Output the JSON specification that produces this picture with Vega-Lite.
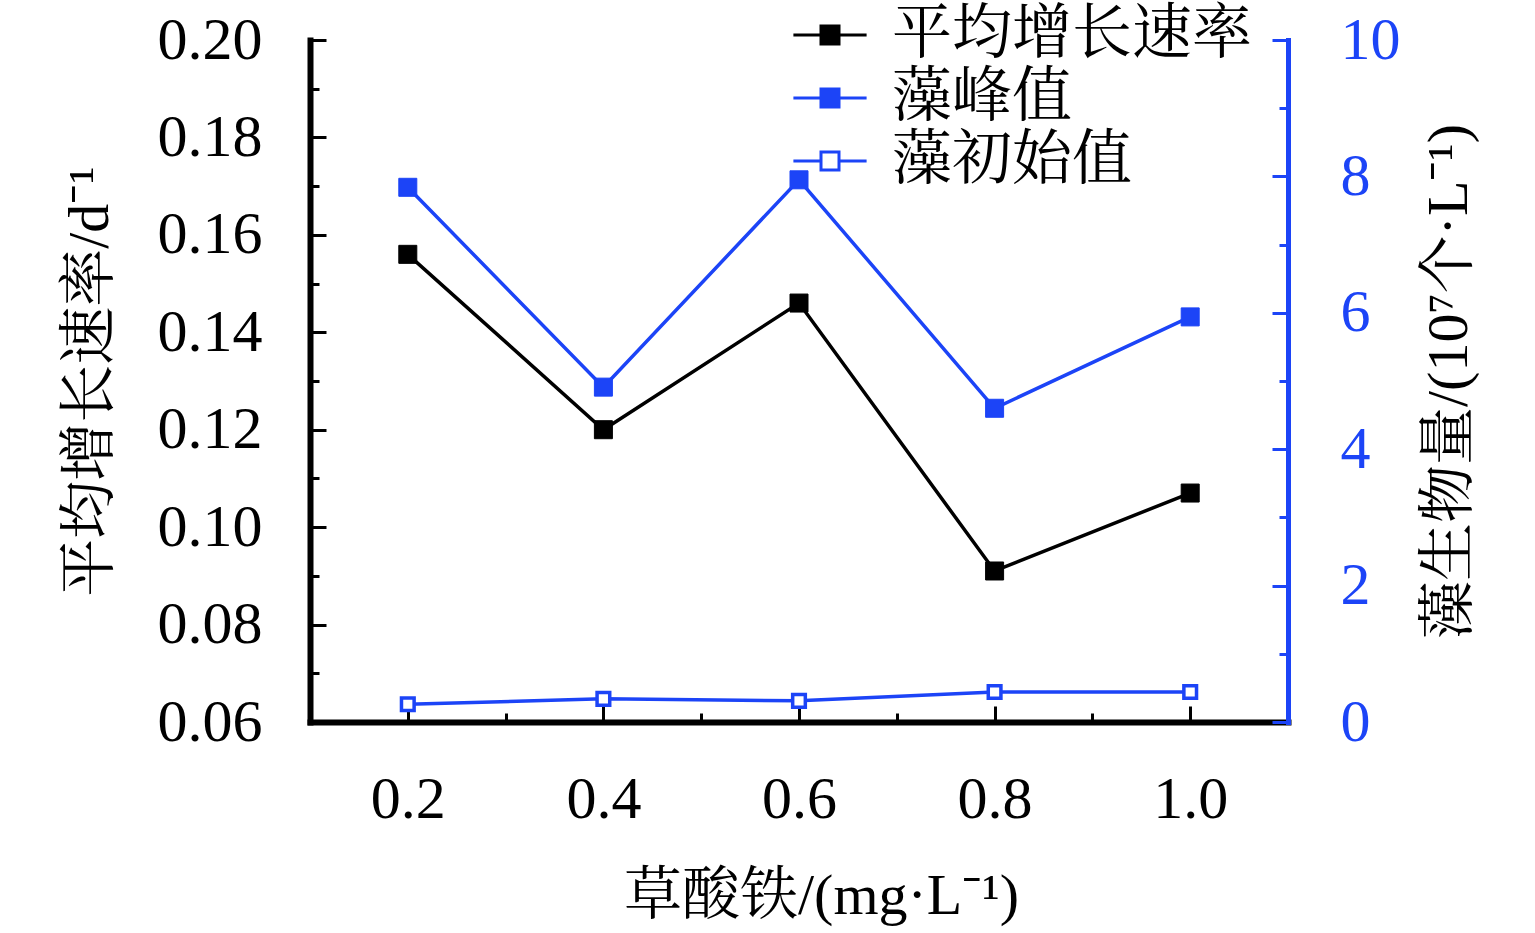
{
  "$schema": "https://vega.github.io/schema/vega-lite/v6.json",
  "width": 978,
  "height": 682,
  "autosize": "none",
  "padding": {"left": 310, "top": 40, "right": 247, "bottom": 211},
  "config": {
    "background": "white",
    "view": {"stroke": null},
    "font": "Liberation Serif, Noto Serif CJK SC, Noto Sans CJK SC",
    "axis": {
      "grid": false,
      "labelFont": "Liberation Serif",
      "labelFontSize": 60,
      "labelColor": "black",
      "titleFont": "Liberation Serif, Noto Serif CJK SC, Noto Sans CJK SC",
      "titleFontSize": 58,
      "titleFontWeight": "normal",
      "titleColor": "black",
      "domainColor": "black",
      "domainWidth": 6,
      "tickColor": "black",
      "tickWidth": 3,
      "domainCap": "square"
    },
    "legend": {
      "orient": "none",
      "legendX": 490,
      "legendY": -35,
      "title": null,
      "labelFont": "Liberation Serif, Noto Serif CJK SC, Noto Sans CJK SC",
      "labelFontSize": 60,
      "labelColor": "black",
      "labelLimit": 0,
      "labelOffset": 32,
      "rowPadding": 3,
      "padding": 0,
      "symbolType": "M-1.83,0L-0.45,0M0.45,0L1.83,0M-0.45,-0.45L0.45,-0.45L0.45,0.45L-0.45,0.45Z",
      "symbolSize": 1600,
      "symbolStrokeWidth": 3,
      "symbolOpacity": 1
    }
  },
  "data": {
    "values": [
      {"c": 0.2, "series": "平均增长速率", "v": 0.156},
      {"c": 0.4, "series": "平均增长速率", "v": 0.120},
      {"c": 0.6, "series": "平均增长速率", "v": 0.146},
      {"c": 0.8, "series": "平均增长速率", "v": 0.091},
      {"c": 1.0, "series": "平均增长速率", "v": 0.107},
      {"c": 0.2, "series": "藻峰值", "v": 7.84},
      {"c": 0.4, "series": "藻峰值", "v": 4.91},
      {"c": 0.6, "series": "藻峰值", "v": 7.95},
      {"c": 0.8, "series": "藻峰值", "v": 4.60},
      {"c": 1.0, "series": "藻峰值", "v": 5.94},
      {"c": 0.2, "series": "藻初始值", "v": 0.26},
      {"c": 0.4, "series": "藻初始值", "v": 0.34},
      {"c": 0.6, "series": "藻初始值", "v": 0.31},
      {"c": 0.8, "series": "藻初始值", "v": 0.44},
      {"c": 1.0, "series": "藻初始值", "v": 0.44}
    ]
  },
  "layer": [
    {
      "transform": [{"filter": "datum.series === '平均增长速率'"}],
      "layer": [
        {
          "mark": {"type": "line", "color": "black", "strokeWidth": 3.5},
          "encoding": {
            "x": {
              "field": "c", "type": "quantitative",
              "scale": {"domain": [0.1, 1.1], "nice": false, "zero": false},
              "axis": {
                "orient": "bottom", "values": [0.2, 0.4, 0.6, 0.8, 1.0], "format": ".1f",
                "tickSize": -16, "labelPadding": 64,
                "title": "草酸铁/(mg·L⁻¹)", "titlePadding": 38, "titleX": 511
              }
            },
            "y": {
              "field": "v", "type": "quantitative",
              "scale": {"domain": [0.06, 0.2], "nice": false, "zero": false},
              "axis": {
                "orient": "left", "values": [0.06, 0.08, 0.1, 0.12, 0.14, 0.16, 0.18, 0.2], "format": ".2f",
                "tickSize": -16, "labelPadding": 64,
                "title": "平均增长速率/d⁻¹", "titlePadding": 38
              }
            }
          }
        },
        {
          "mark": {"type": "point", "shape": "square", "size": 324, "strokeWidth": 1, "opacity": 1},
          "encoding": {
            "x": {
              "field": "c", "type": "quantitative",
              "axis": {
                "orient": "bottom", "values": [0.3, 0.5, 0.7, 0.9], "labels": false,
                "domain": false, "tickSize": -9, "title": null
              }
            },
            "y": {
              "field": "v", "type": "quantitative",
              "axis": {
                "orient": "left", "values": [0.07, 0.09, 0.11, 0.13, 0.15, 0.17, 0.19], "labels": false,
                "domain": false, "tickSize": -9, "title": null
              }
            },
            "stroke": {
              "field": "series", "type": "nominal",
              "scale": {"domain": ["平均增长速率", "藻峰值", "藻初始值"], "range": ["black", "#1c44f7", "#1c44f7"]}
            },
            "fill": {
              "field": "series", "type": "nominal",
              "scale": {"domain": ["平均增长速率", "藻峰值", "藻初始值"], "range": ["black", "#1c44f7", "white"]}
            }
          }
        }
      ],
      "resolve": {"axis": {"x": "independent", "y": "independent"}}
    },
    {
      "transform": [{"filter": "datum.series !== '平均增长速率'"}],
      "layer": [
        {
          "mark": {"type": "line", "color": "#1c44f7", "strokeWidth": 3.5},
          "encoding": {
            "x": {"field": "c", "type": "quantitative", "axis": null},
            "y": {
              "field": "v", "type": "quantitative",
              "scale": {"domain": [0, 10], "nice": false},
              "axis": {
                "orient": "right", "values": [0, 2, 4, 6, 8, 10],
                "tickSize": -16, "labelPadding": 68,
                "domainColor": "#1c44f7", "tickColor": "#1c44f7", "labelColor": "#1c44f7", "domainWidth": 5,
                "title": "藻生物量/(10⁷个·L⁻¹)", "titleAngle": 270, "titleBaseline": "top", "titlePadding": 20
              }
            },
            "detail": {"field": "series"}
          }
        },
        {
          "transform": [{"filter": "datum.series === '藻峰值'"}],
          "mark": {"type": "point", "shape": "square", "size": 324, "strokeWidth": 1, "opacity": 1},
          "encoding": {
            "x": {"field": "c", "type": "quantitative", "axis": null},
            "y": {
              "field": "v", "type": "quantitative",
              "axis": {
                "orient": "right", "values": [1, 3, 5, 7, 9], "labels": false,
                "domain": false, "tickSize": -9, "tickColor": "#1c44f7", "title": null
              }
            },
            "stroke": {"field": "series", "type": "nominal"},
            "fill": {"field": "series", "type": "nominal"}
          }
        },
        {
          "transform": [{"filter": "datum.series === '藻初始值'"}],
          "mark": {"type": "point", "shape": "square", "size": 160, "strokeWidth": 3.5, "opacity": 1},
          "encoding": {
            "x": {"field": "c", "type": "quantitative", "axis": null},
            "y": {"field": "v", "type": "quantitative", "axis": null},
            "stroke": {"field": "series", "type": "nominal"},
            "fill": {"field": "series", "type": "nominal"}
          }
        }
      ],
      "resolve": {"axis": {"y": "independent"}}
    }
  ],
  "resolve": {"scale": {"y": "independent"}, "axis": {"x": "independent"}}
}
